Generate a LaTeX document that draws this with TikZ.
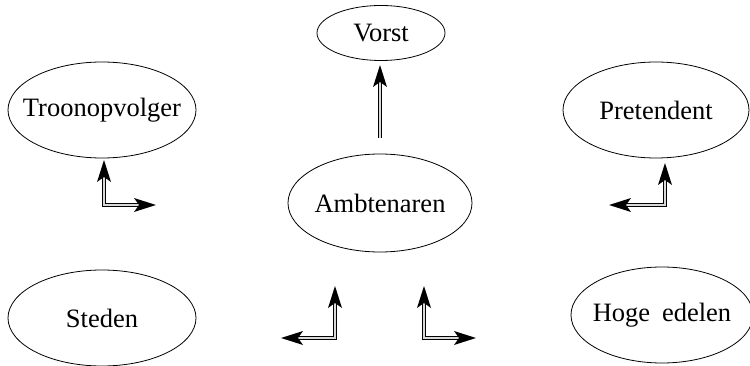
\documentclass[tikz,border=0pt]{standalone}
\usepackage{fontspec}
\setmainfont{Liberation Serif}
\usetikzlibrary{shapes.geometric,calc}
\begin{document}
\begin{tikzpicture}[x=1pt,y=-1pt,
  ell/.style={ellipse,draw,line width=0.8pt,inner sep=0pt},
  txt/.style={font=\fontsize{26.5}{30}\selectfont},
  dblout/.style={line width=3.6pt,black,line join=miter},
  dblin/.style={line width=1.3pt,gray!30,line join=miter},
  headup/.pic={\fill (0,0) -- (-7,22) -- (0,17) -- (7,22) -- cycle;},
  headright/.pic={\fill (0,0) -- (-22,-7) -- (-17,0) -- (-22,7) -- cycle;},
  headleft/.pic={\fill (0,0) -- (22,-7) -- (17,0) -- (22,7) -- cycle;}]
\useasboundingbox (0,0) rectangle (750,366);
\node[ell,minimum width=128pt,minimum height=55pt,label={[txt]center:Vorst}] (vorst) at (381,33) {};
\node[ell,minimum width=184pt,minimum height=98pt,label={[txt]center:Ambtenaren}] (amb) at (380,203) {};
\node[ell,minimum width=188pt,minimum height=96pt,label={[txt]center:Troonopvolger}] (troon) at (102,110) {};
\node[ell,minimum width=186pt,minimum height=96pt,label={[txt]center:Pretendent}] (pret) at (656,110) {};
\node[ell,minimum width=188pt,minimum height=96pt,label={[txt]center:Steden}] (steden) at (102,318) {};
\node[ell,minimum width=182pt,minimum height=96pt,label={[txt]center:Hoge\hspace{0.45em}edelen}] (hoge) at (662,315) {};
\coordinate (v0) at (380,138);
\coordinate (v1) at (380,65);
\coordinate (t0) at (104,160);
\coordinate (tc) at (104,205);
\coordinate (t1) at (156,205);
\coordinate (p0) at (665,163);
\coordinate (pc) at (665,205);
\coordinate (p1) at (609,205);
\coordinate (l0) at (335,286);
\coordinate (lc) at (335,338);
\coordinate (l1) at (281,338);
\coordinate (r0) at (424,286);
\coordinate (rc) at (424,338);
\coordinate (r1) at (476,338);
% Vorst
\draw[dblout] (v0) -- ($(v1)+(0,15)$);
\draw[dblin] (v0) -- ($(v1)+(0,16)$);
% Troonopvolger
\draw[dblout] ($(t0)+(0,15)$) -- (tc) -- ($(t1)+(-15,0)$);
\draw[dblin] ($(t0)+(0,16)$) -- (tc) -- ($(t1)+(-16,0)$);
% Pretendent
\draw[dblout] ($(p0)+(0,15)$) -- (pc) -- ($(p1)+(15,0)$);
\draw[dblin] ($(p0)+(0,16)$) -- (pc) -- ($(p1)+(16,0)$);
% lower left
\draw[dblout] ($(l0)+(0,15)$) -- (lc) -- ($(l1)+(15,0)$);
\draw[dblin] ($(l0)+(0,16)$) -- (lc) -- ($(l1)+(16,0)$);
% lower right
\draw[dblout] ($(r0)+(0,15)$) -- (rc) -- ($(r1)+(-15,0)$);
\draw[dblin] ($(r0)+(0,16)$) -- (rc) -- ($(r1)+(-16,0)$);
\pic at (v1) {headup};
\pic at (t0) {headup};
\pic at (t1) {headright};
\pic at (p0) {headup};
\pic at (p1) {headleft};
\pic at (l0) {headup};
\pic at (l1) {headleft};
\pic at (r0) {headup};
\pic at (r1) {headright};
\end{tikzpicture}
\end{document}
